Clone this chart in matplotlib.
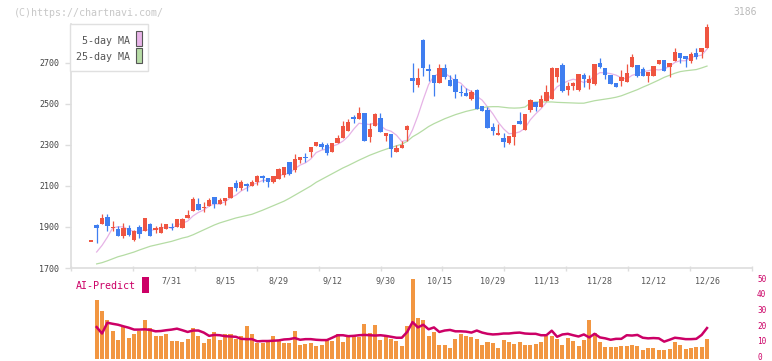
import numpy as np
import matplotlib
matplotlib.use('Agg')
import matplotlib.pyplot as plt
from matplotlib.patches import Rectangle

# ---- data ----
# candle index 0..115, one per trading day
opens = [1832, 1910, 1916, 1950, 1899, 1890, 1858, 1895, 1838, 1900,
         1879, 1913, 1884, 1872, 1892, 1901, 1900, 1897, 1944, 1980,
         2012, 1996, 2002, 2045, 2012, 2028, 2043, 2115, 2090, 2107,
         2098, 2121, 2146, 2137, 2121, 2133, 2154, 2217, 2178, 2227,
         2241, 2266, 2297, 2305, 2300, 2267, 2311, 2336, 2368, 2434,
         2425, 2458, 2337, 2394, 2432, 2344, 2355, 2266, 2287, 2373,
         2627, 2594, 2812, 2671, 2642, 2601, 2674, 2617, 2622, 2560,
         2555, 2526, 2570, 2490, 2471, 2388, 2350, 2336, 2308, 2341,
         2417, 2373, 2471, 2508, 2487, 2516, 2524, 2630, 2690, 2568,
         2588, 2568, 2642, 2604, 2596, 2702, 2674, 2642, 2604, 2612,
         2609, 2682, 2690, 2669, 2638, 2638, 2693, 2715, 2679, 2711,
         2747, 2734, 2711, 2750, 2755, 2775]
highs = [1832, 1913, 1963, 1963, 1929, 1907, 1918, 1908, 1885, 1910,
         1944, 1918, 1905, 1918, 1915, 1921, 1937, 1944, 1983, 2045,
         2041, 2020, 2043, 2045, 2040, 2043, 2095, 2129, 2129, 2113,
         2129, 2154, 2154, 2137, 2149, 2186, 2194, 2217, 2256, 2240,
         2263, 2290, 2315, 2315, 2311, 2311, 2349, 2417, 2425, 2445,
         2487, 2458, 2406, 2458, 2454, 2360, 2355, 2298, 2321, 2398,
         2698, 2676, 2819, 2695, 2642, 2695, 2695, 2642, 2645, 2593,
         2576, 2568, 2573, 2490, 2484, 2409, 2402, 2357, 2344, 2396,
         2463, 2451, 2523, 2508, 2544, 2593, 2682, 2674, 2698, 2609,
         2609, 2646, 2650, 2642, 2695, 2723, 2674, 2642, 2604, 2666,
         2695, 2744, 2690, 2679, 2655, 2685, 2715, 2715, 2698, 2773,
         2747, 2734, 2755, 2772, 2773, 2890]
lows = [1832, 1824, 1916, 1882, 1880, 1858, 1848, 1858, 1833, 1848,
        1879, 1858, 1869, 1872, 1889, 1887, 1900, 1895, 1944, 1980,
        1983, 1975, 2002, 1994, 2012, 2007, 2043, 2077, 2079, 2077,
        2098, 2105, 2120, 2097, 2116, 2133, 2146, 2155, 2170, 2214,
        2219, 2243, 2297, 2279, 2250, 2267, 2311, 2336, 2368, 2406,
        2425, 2318, 2316, 2394, 2365, 2321, 2243, 2266, 2283, 2321,
        2560, 2585, 2638, 2614, 2541, 2601, 2620, 2590, 2528, 2539,
        2541, 2520, 2476, 2467, 2385, 2349, 2350, 2292, 2305, 2300,
        2404, 2373, 2463, 2468, 2484, 2516, 2524, 2609, 2560, 2544,
        2568, 2565, 2585, 2575, 2593, 2674, 2622, 2599, 2581, 2589,
        2609, 2682, 2633, 2638, 2609, 2638, 2693, 2663, 2633, 2711,
        2698, 2682, 2698, 2718, 2723, 2775]
closes = [1832, 1897, 1944, 1907, 1901, 1858, 1895, 1863, 1879, 1868,
          1944, 1858, 1895, 1900, 1915, 1899, 1937, 1937, 1959, 2037,
          1983, 1998, 2032, 2014, 2032, 2043, 2095, 2090, 2118, 2105,
          2118, 2150, 2144, 2121, 2149, 2183, 2194, 2160, 2232, 2240,
          2239, 2290, 2315, 2292, 2263, 2311, 2334, 2394, 2412, 2432,
          2458, 2321, 2378, 2451, 2365, 2360, 2279, 2285, 2298, 2393,
          2614, 2627, 2677, 2663, 2601, 2676, 2633, 2590, 2560, 2552,
          2541, 2560, 2476, 2467, 2385, 2370, 2359, 2316, 2344, 2396,
          2404, 2451, 2520, 2487, 2523, 2560, 2674, 2674, 2565, 2588,
          2604, 2646, 2622, 2620, 2695, 2682, 2642, 2599, 2585, 2633,
          2650, 2731, 2638, 2638, 2655, 2685, 2715, 2663, 2698, 2754,
          2723, 2718, 2744, 2731, 2773, 2874]

# moving averages, volume and AI-Predict start at candle 1
ma5 = [1778, 1810, 1850, 1896, 1901, 1901, 1885, 1879, 1873, 1890,
       1882, 1889, 1893, 1902, 1893, 1909, 1918, 1929, 1954, 1971,
       1983, 2002, 2013, 2012, 2024, 2043, 2055, 2076, 2090, 2105,
       2116, 2127, 2128, 2136, 2149, 2158, 2161, 2184, 2202, 2213,
       2232, 2263, 2275, 2280, 2294, 2303, 2319, 2343, 2377, 2406,
       2403, 2400, 2408, 2395, 2375, 2367, 2348, 2317, 2323, 2374,
       2443, 2522, 2595, 2636, 2649, 2650, 2633, 2612, 2602, 2575,
       2561, 2538, 2519, 2486, 2452, 2411, 2379, 2355, 2357, 2364,
       2382, 2423, 2452, 2477, 2508, 2553, 2584, 2599, 2612, 2621,
       2615, 2605, 2616, 2637, 2653, 2652, 2648, 2641, 2628, 2622,
       2640, 2647, 2658, 2662, 2669, 2666, 2671, 2683, 2703, 2711,
       2711, 2727, 2734, 2738, 2768]
ma25 = [1720, 1726, 1735, 1745, 1755, 1762, 1770, 1778, 1788, 1797,
        1806, 1812, 1818, 1824, 1830, 1838, 1846, 1852, 1862, 1874,
        1886, 1898, 1910, 1920, 1928, 1936, 1944, 1950, 1956, 1962,
        1972, 1982, 1993, 2004, 2015, 2026, 2040, 2055, 2070, 2085,
        2100, 2118, 2132, 2146, 2160, 2174, 2188, 2200, 2213, 2226,
        2238, 2250, 2260, 2270, 2279, 2288, 2296, 2304, 2318, 2340,
        2355, 2372, 2390, 2404, 2416, 2428, 2438, 2448, 2456, 2464,
        2470, 2476, 2482, 2486, 2487, 2487, 2484, 2481, 2480, 2481,
        2485, 2505, 2510, 2510, 2510, 2510, 2508, 2507, 2506, 2505,
        2504, 2504, 2510, 2516, 2520, 2524, 2528, 2533, 2540, 2550,
        2560, 2570, 2582, 2593, 2605, 2617, 2630, 2640, 2650, 2658,
        2662, 2665, 2668, 2676, 2685]
volume = [35.9, 29.1, 23.4, 16.6, 10.5, 18.9, 11.6, 14.1, 16.3, 23.4,
          18.4, 12.8, 12.8, 14.1, 9.7, 9.7, 9.1, 10.9, 18.4, 12.8,
          8.4, 10.9, 15.9, 10.3, 14.1, 14.7, 10.9, 13.4, 19.7, 14.7,
          8.4, 8.4, 10.3, 12.8, 10.3, 8.4, 8.4, 16.6, 7.2, 7.8,
          8.4, 6.6, 7.4, 10.3, 9.7, 14.7, 9.1, 12.8, 12.8, 12.2,
          20.9, 15.3, 20.3, 10.3, 13.4, 10.9, 9.7, 6.6, 19.7, 49.7,
          24.7, 23.4, 12.8, 15.9, 7.2, 7.2, 5.3, 10.9, 14.7, 12.8,
          12.2, 10.9, 7.2, 9.1, 8.4, 5.3, 10.3, 9.1, 7.8, 9.1,
          7.2, 7.2, 7.8, 9.1, 13.4, 12.8, 10.9, 7.2, 11.6, 9.7,
          6.6, 10.3, 23.4, 15.3, 9.1, 5.9, 5.9, 5.9, 6.6, 6.6,
          7.2, 6.6, 4.1, 5.3, 5.3, 4.1, 4.1, 4.7, 9.1, 7.2,
          4.7, 5.3, 5.9, 5.9, 10.9]
ai_predict = [18.8, 14.7, 21.6, 20.9, 20.3, 19.3, 18.4, 17.2, 17.2, 17.4,
              17.0, 16.1, 16.3, 16.8, 17.2, 17.8, 16.8, 15.7, 16.6, 16.6,
              15.3, 13.2, 13.8, 13.6, 13.0, 12.8, 12.6, 11.3, 11.1, 11.1,
              9.7, 9.9, 9.9, 10.1, 10.3, 10.9, 11.1, 11.8, 10.7, 11.1,
              11.1, 10.7, 10.5, 10.5, 12.0, 13.6, 13.6, 13.0, 13.2, 13.6,
              13.8, 13.6, 13.4, 13.6, 13.2, 12.6, 12.0, 12.0, 15.7, 22.0,
              18.6, 20.3, 17.4, 18.6, 15.7, 16.6, 17.0, 16.1, 16.1, 15.9,
              15.3, 16.6, 15.3, 14.5, 14.1, 14.3, 14.7, 14.7, 15.1, 15.3,
              14.7, 14.5, 14.5, 13.6, 13.6, 16.5, 12.6, 14.1, 14.5, 13.6,
              12.8, 14.1, 12.2, 14.5, 12.2, 11.6, 10.7, 11.3, 11.3, 13.6,
              13.4, 13.8, 12.0, 11.6, 11.8, 11.6, 9.5, 10.7, 12.0, 11.6,
              11.1, 11.1, 11.3, 13.8, 18.2]

label_idx = [15, 25, 35, 45, 55, 65, 75, 85, 95, 105, 115]
label_text = ['7/31', '8/15', '8/29', '9/12', '9/30', '10/15',
              '10/29', '11/13', '11/28', '12/12', '12/26']

# ---- layout ----
W, H = 772, 361
UP, DOWN = '#ef5541', '#3f7ef0'
GRID = '#dddddd'
AI = '#cc0066'

plt.rcParams['font.family'] = ['DejaVu Sans Mono']


def fx(x):
    return x / W


def fy(y):
    return 1 - y / H


fig = plt.figure(figsize=(W / 100, H / 100), dpi=100)

# x limits: first candle at px 91.3, 5.354 px per candle, axes px 71..752
x0 = (71 - 91.3) / 5.354
x1 = (752 - 91.3) / 5.354

ax = fig.add_axes([fx(71), fy(268), fx(752) - fx(71), fy(24) - fy(268)])
idx = np.arange(len(closes))
o = np.array(opens)
c = np.array(closes)
colors = [UP if cc >= oo else DOWN for oo, cc in zip(o, c)]
ax.vlines(idx, lows, highs, colors=colors, linewidth=0.9, zorder=3, clip_on=False)
body_h = np.maximum(np.abs(c - o), 6)
body_b = np.minimum(o, c) - np.where(np.abs(c - o) < 6, 3, 0)
ax.bar(idx, body_h, bottom=body_b, width=0.82, color=colors, zorder=4, clip_on=False)

ma_x = np.arange(1, len(closes))
ax.plot(ma_x, ma5, color='#e6b3e6', linewidth=0.9, zorder=2)
ax.plot(ma_x, ma25, color='#b5dca4', linewidth=0.9, zorder=2)

ax.set_ylim(1700, 1700 + (268 - 24) * 200 / 41)
ax.set_yticks(range(1700, 2701, 200))
ax.set_xticks(np.linspace(x0, x1, 12))
ax.set_xticks(label_idx, minor=True)
ax.set_xticklabels(label_text, minor=True)
ax.set_xlim(x0, x1)
ax.tick_params(axis='x', which='major', direction='inout', length=3.6,
               width=1, color=GRID, labelbottom=False)
ax.tick_params(axis='x', which='minor', length=0, pad=6,
               labelsize=6, labelcolor='#555555')
ax.tick_params(axis='y', direction='out', length=4.3, width=1, color=GRID,
               pad=4.3, labelsize=6, labelcolor='#444444')
for s in ['top', 'right']:
    ax.spines[s].set_visible(False)
for s in ['left', 'bottom']:
    ax.spines[s].set_color(GRID)
    ax.spines[s].set_linewidth(1.2)

# ---- lower panel: volume + AI-Predict ----
# zero at px 356.5, 50 at px 278.3; panel spans px 270..359
scale = (356.5 - 278.3) / 50
ylo = -(359 - 356.5) / scale
yhi = (356.5 - 270) / scale
axl = fig.add_axes([fx(71), fy(359), fx(752) - fx(71), fy(270) - fy(359)])
axl.patch.set_alpha(0)
vol = np.array(volume)
axl.bar(ma_x, vol - ylo, bottom=ylo, width=0.75, color='#f29641', zorder=2)
axl.plot(ma_x, ai_predict, color=AI, linewidth=1.8, zorder=3)
axl.set_xlim(x0, x1)
axl.set_ylim(ylo, yhi)
axl.set_yticks(range(0, 51, 10))
axl.set_xticks([])
axl.yaxis.tick_right()
axl.tick_params(axis='y', length=0, pad=3.6, labelsize=5.6, labelcolor=AI)
for s in axl.spines.values():
    s.set_visible(False)

# ---- texts and legend ----
fig.text(fx(14), fy(12.7), '(C)https://chartnavi.com/', fontsize=7.2,
         color='#c8c8c8', va='center', ha='left')
fig.text(fx(757), fy(12.3), '3186', fontsize=7, color='#bbbbbb',
         va='center', ha='right')

fig.patches.append(Rectangle((fx(70), fy(71)), fx(148) - fx(70), fy(24) - fy(71),
                             transform=fig.transFigure, facecolor='white',
                             edgecolor='#e0e0e0', linewidth=1, zorder=5))
fig.patches.append(Rectangle((fx(136), fy(46)), fx(142) - fx(136), fy(31) - fy(46),
                             transform=fig.transFigure, facecolor='#e8b4e8',
                             edgecolor='#555555', linewidth=0.8, zorder=6))
fig.patches.append(Rectangle((fx(136), fy(63)), fx(142) - fx(136), fy(48) - fy(63),
                             transform=fig.transFigure, facecolor='#b7dca6',
                             edgecolor='#555555', linewidth=0.8, zorder=6))
fig.text(fx(130), fy(41), '5-day MA', fontsize=7.2, color='#555555',
         va='center', ha='right', zorder=7)
fig.text(fx(130), fy(57), '25-day MA', fontsize=7.2, color='#555555',
         va='center', ha='right', zorder=7)

fig.text(fx(75.7), fy(286), 'AI-Predict', fontsize=7.2, color=AI,
         va='center', ha='left')
fig.patches.append(Rectangle((fx(142), fy(293)), fx(149) - fx(142), fy(277) - fy(293),
                             transform=fig.transFigure, facecolor=AI,
                             edgecolor='none', zorder=5))

fig.savefig('out.png', dpi=100)
